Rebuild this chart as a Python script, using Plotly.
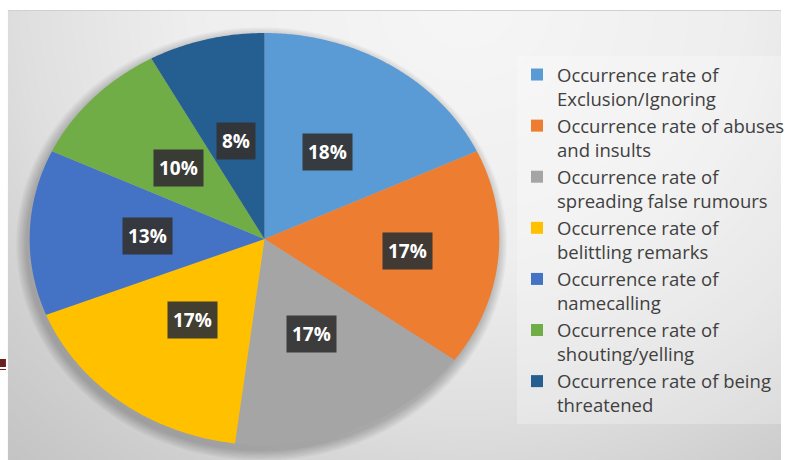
import numpy as np
import plotly.graph_objects as go

# Category names (legend order = clockwise slice order from 12 o'clock)
categories = [
    "Occurrence rate of<br>Exclusion/Ignoring",
    "Occurrence rate of abuses<br>and insults",
    "Occurrence rate of<br>spreading false rumours",
    "Occurrence rate of<br>belittling remarks",
    "Occurrence rate of<br>namecalling",
    "Occurrence rate of<br>shouting/yelling",
    "Occurrence rate of being<br>threatened",
]
shares = [18, 17, 17, 17, 13, 10, 8]  # percent
colors = ["#5B9BD5", "#ED7D31", "#A5A5A5", "#FFC000", "#4472C4", "#70AD47", "#255E91"]
label_radius = [0.50, 0.61, 0.50, 0.50, 0.50, 0.50, 0.49]  # fraction of radius

W, H = 790, 460
cx, cy = 267.5, 239.0     # pie centre (axis units = pixels)
rx, ry = 237.5, 206.0     # the pie is drawn slightly stretched horizontally

fig = go.Figure()

# background panel: grey shading, lightest near the top centre
gx = np.linspace(0, W, 41)
gy = np.linspace(0, H, 24)
GX, GY = np.meshgrid(gx, gy)
dist = np.sqrt(((GX - 470) / 560) ** 2 + ((GY - 0) / 520) ** 2)
shade = np.interp(dist, [0, 0.5, 0.8, 1.0, 1.2], [246, 238, 223, 208, 196])
fig.add_trace(go.Heatmap(
    x=gx, y=gy, z=shade, zmin=0, zmax=255, zsmooth="best",
    colorscale=[[0, "rgb(0,0,0)"], [1, "rgb(255,255,255)"]],
    showscale=False, hoverinfo="skip",
))

# soft drop shadow under the pie
t = np.linspace(0, 2 * np.pi, 361)
for k in range(7):
    grow = 1 + k * 1.6
    fig.add_trace(go.Scatter(
        x=cx - 3 + (rx + grow) * np.sin(t), y=cy + 5 + (ry + grow) * np.cos(t),
        mode="none", fill="toself", fillcolor="rgba(0,0,0,0.035)",
        showlegend=False, hoverinfo="skip",
    ))

# pie wedges, clockwise from 12 o'clock
total = float(sum(shares))
start = 0.0
annotations = []
for name, v, c, lr in zip(categories, shares, colors, label_radius):
    sweep = 2 * np.pi * v / total
    n = max(int(np.degrees(sweep) * 2), 4)
    th = np.linspace(start, start + sweep, n)
    xs = np.concatenate([[cx], cx + rx * np.sin(th), [cx]])
    ys = np.concatenate([[cy], cy - ry * np.cos(th), [cy]])
    fig.add_trace(go.Scatter(
        x=xs, y=ys, mode="none", fill="toself", fillcolor=c,
        showlegend=False, hoverinfo="skip",
    ))
    mid = start + sweep / 2
    annotations.append(dict(
        x=cx + lr * rx * np.sin(mid), y=cy - lr * ry * np.cos(mid),
        xref="x", yref="y", text=f"<b>{v}%</b>", showarrow=False,
        font=dict(family="Open Sans", size=19, color="white"),
        bgcolor="rgba(52,52,52,0.93)", borderpad=5,
    ))
    start += sweep

# legend entries
for i, (name, c) in enumerate(zip(categories, colors)):
    fig.add_trace(go.Scatter(
        x=[None], y=[None], mode="markers", name=name, legendgroup=f"g{i}",
        marker=dict(symbol="square", size=12, color=c),
    ))

fig.update_layout(
    width=W, height=H,
    margin=dict(l=0, r=0, t=0, b=0),
    paper_bgcolor="white", plot_bgcolor="white",
    xaxis=dict(range=[0, W], visible=False, fixedrange=True),
    yaxis=dict(range=[H, 0], visible=False, fixedrange=True),
    annotations=annotations,
    legend=dict(
        x=523 / W, y=1 - 56 / H, xanchor="left", yanchor="top",
        font=dict(family="Open Sans", size=18.5, color="#404040"),
        bgcolor="rgba(255,255,255,0.25)", borderwidth=0,
        valign="top", tracegroupgap=5, itemsizing="constant",
        traceorder="normal",
    ),
    shapes=[
        # white frame strips at top and left
        dict(type="rect", xref="x", yref="y", x0=0, x1=W, y0=0, y1=10,
             fillcolor="white", line_width=0, layer="above"),
        dict(type="rect", xref="x", yref="y", x0=0, x1=8, y0=0, y1=H,
             fillcolor="white", line_width=0, layer="above"),
        dict(type="line", xref="x", yref="y", x0=8, x1=W, y0=10.5, y1=10.5,
             line=dict(color="#d0d0d0", width=1), layer="above"),
        # small dark-red tab on the left edge
        dict(type="rect", xref="x", yref="y", x0=0, x1=6, y0=359, y1=367,
             fillcolor="#6b1f1f", line_width=0, layer="above"),
        dict(type="line", xref="x", yref="y", x0=0, x1=6, y0=369.5, y1=369.5,
             line=dict(color="#6b1f1f", width=1), layer="above"),
    ],
)

fig.write_html("out.html")
